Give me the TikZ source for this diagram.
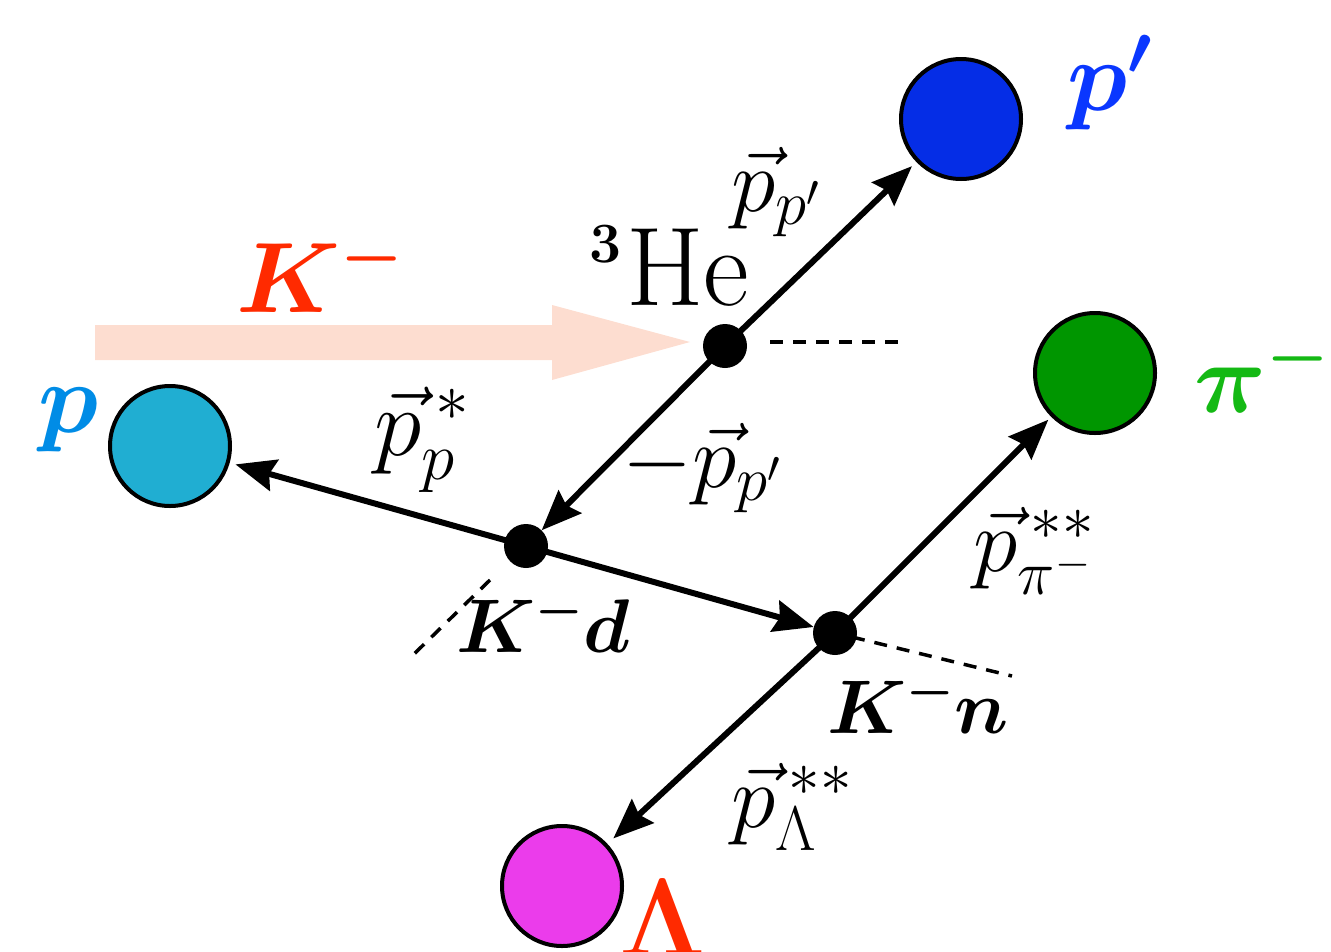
\RequirePackage{fix-cm}
\documentclass[tikz,border=0pt]{standalone}
\usepackage{amsmath,bm}
\usetikzlibrary{arrows.meta}
\definecolor{beam}{RGB}{253,221,208}
\definecolor{kred}{RGB}{255,42,0}
\definecolor{ppblue}{RGB}{5,45,230}
\definecolor{pplab}{RGB}{10,55,255}
\definecolor{pcyan}{RGB}{32,174,210}
\definecolor{plab}{RGB}{0,140,230}
\definecolor{pigreen}{RGB}{0,150,0}
\definecolor{pilab}{RGB}{20,185,20}
\definecolor{lmag}{RGB}{235,60,235}
\begin{document}
\begin{tikzpicture}[x=1pt,y=-1pt,
  particle/.style={circle,draw=black,line width=4pt,minimum size=120pt,inner sep=0pt},
  vertexdot/.style={circle,fill=black,minimum size=44pt,inner sep=0pt},
  momarrow/.style={line width=6pt,-{Stealth[length=40pt,width=32pt,inset=5pt]}},
  extline/.style={line width=3.5pt,dash pattern=on 13pt off 10pt},
  lab/.style={inner sep=0pt,font=\fontsize{90}{100}\selectfont},
  bigl/.style={inner sep=0pt,font=\fontsize{100}{110}\selectfont},
  kl/.style={inner sep=0pt,font=\fontsize{76}{86}\selectfont}
]
\path[use as bounding box] (0,0) rectangle (1331,951);

% beam
\fill[beam] (95,325) -- (552,325) -- (552,305) -- (690,342) -- (552,380) -- (552,360) -- (95,360) -- cycle;

% particles
\node[particle,fill=ppblue] (pp) at (961,119) {};
\node[particle,fill=pcyan] (p) at (170,446) {};
\node[particle,fill=pigreen] (pi) at (1095,373) {};
\node[particle,fill=lmag] (L) at (562,886) {};

% vertices
\node[vertexdot] (A) at (725,346) {};
\node[vertexdot] (B) at (526,546) {};
\node[vertexdot] (C) at (835,633) {};

% extension dashed lines
\coordinate (a1) at (770,342);
\coordinate (a2) at (900,342);
\coordinate (b1) at (490,580);
\coordinate (b2) at (413,655);
\coordinate (c1) at (852,637);
\coordinate (c2) at (1012,676);
\draw[extline] (a1) -- (a2);
\draw[extline] (b1) -- (b2);
\draw[extline] (c1) -- (c2);

% momentum arrows
\draw[momarrow,shorten >=6pt] (A.center) -- (pp);
\draw[momarrow] (A.center) -- (B);
\draw[momarrow,shorten >=6pt] (B.center) -- (p);
\draw[momarrow] (B.center) -- (C);
\draw[momarrow,shorten >=4pt] (C.center) -- (pi);
\draw[momarrow,shorten >=8pt] (C.center) -- (L);

% labels
\node[bigl,text=kred] (klab) at (320,272) {$\bm{K^-}$};
\node[inner sep=0pt,anchor=base west,font=\fontsize{112}{114}\selectfont] (he) at (589,305)
  {\raisebox{43pt}{\fontsize{57}{60}\selectfont$\bm{3}$}\kern5pt He};
\node[lab] (lpp) at (776,192) {$\vec{p}_{p'}$};
\node[lab] (lmpp) at (702,468) {$-\vec{p}_{p'}$};
\node[lab,font=\fontsize{96}{100}\selectfont] (lpstar) at (422,440) {$\vec{p}_{p}^{\kern14pt*}$};
\node[kl] (lkd) at (543,622) {$\bm{K^-d}$};
\node[lab] (lpi) at (1034,551) {$\vec{p}_{\pi^-}^{\kern13pt**}$};
\node[kl] (lkn) at (918,703) {$\bm{K^-n}$};
\node[lab] (lL) at (792,807) {$\vec{p}_{\Lambda}^{\kern13pt**}$};
\node[bigl,text=plab] (plabel) at (69,420) {$\bm{p}$};
\node[bigl,text=pplab] (pplabel) at (1110,83) {$\bm{p'}$};
\node[bigl,text=pilab] (pilabel) at (1262,372) {$\bm{\pi^-}$};
\node[inner sep=0pt,anchor=north,text=kred,font=\fontsize{110}{112}\selectfont] (Llabel) at (663,880) {$\bm{\Lambda}$};
\end{tikzpicture}
\end{document}
